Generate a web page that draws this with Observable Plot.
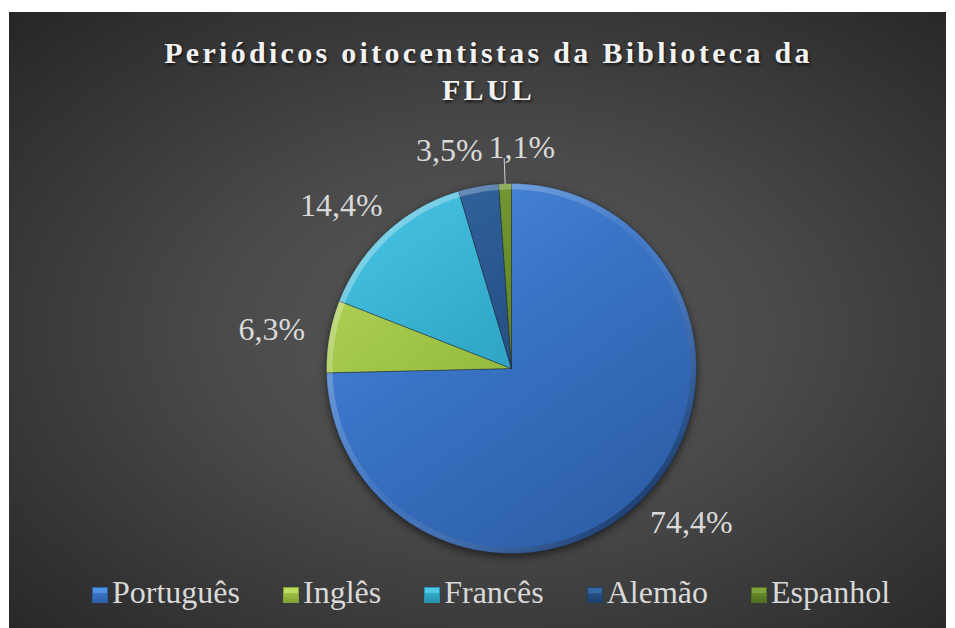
<!DOCTYPE html>
<html>
<head>
<meta charset="utf-8">
<script src="https://cdn.jsdelivr.net/npm/d3@7"></script>
<script src="https://cdn.jsdelivr.net/npm/@observablehq/plot@0.6"></script>
<style>
  html, body { margin: 0; padding: 0; background: #ffffff; font-family: 'Liberation Serif', 'Tinos', 'Times New Roman', serif; }
  #chart {
    position: absolute; left: 9px; top: 12px; width: 937px; height: 616px;
    background: radial-gradient(ellipse farthest-corner at 52% 52%, #5a5a5a 0%, #4a4a4a 40%, #262626 100%);
    overflow: hidden;
  }
  #title {
    box-sizing: border-box; height: 108px; padding-top: 22px; padding-left: 22px;
    font-weight: bold;
    font-size: 30px; line-height: 37px; letter-spacing: 3.3px; text-align: center;
    color: #f2f2f2; text-shadow: 1px 2px 3px rgba(0,0,0,0.65);
  }
  #plot svg { display: block; }
  #legend {
    box-sizing: border-box; height: 58px; padding-top: 2px; padding-left: 83px;
    display: flex; align-items: baseline; white-space: nowrap;
    font-size: 32px; line-height: 40px;
    color: #d9d9d9;
  }
  .item { display: inline-flex; align-items: baseline; margin-right: 43px; }
  .item:last-child { margin-right: 0; }
  .swatch { display: inline-block; width: 16px; height: 16px; margin-right: 4px; box-sizing: border-box; }
</style>
</head>
<body>
<div id="chart">
  <div id="title" style="font-family:'Liberation Serif'">Periódicos oitocentistas da Biblioteca da<br>FLUL</div>
  <div id="plot"></div>
  <div id="legend" style="font-family:'Liberation Serif'"></div>
</div>
<script>
// ---- data ----
const categories = ["Português", "Inglês", "Francês", "Alemão", "Espanhol"];
const percents = [74.4, 6.3, 14.4, 3.5, 1.1];

// ---- styles ----
const palette = {
  "Português": ["#4f91e3", "#3a74c6", "#2d5fa8"],
  "Inglês":    ["#bcdc62", "#9cc143", "#82a434"],
  "Francês":   ["#4cc8e8", "#33aacb", "#2891ae"],
  "Alemão":    ["#3569a6", "#28548a", "#1c3f6a"],
  "Espanhol":  ["#7da23a", "#658a29", "#4f6f1e"]
};
const SERIF = "'Liberation Serif', 'Tinos', 'Times New Roman', serif";

const W = 937, H = 450;
const CX = 502, CY = 248, R = 185, PAD = 25, LH = 22, RIM = 3;

const total = d3.sum(percents);
let acc = 0;
const slices = categories.map((name, i) => {
  const a0 = acc / total * 2 * Math.PI;
  acc += percents[i];
  const a1 = acc / total * 2 * Math.PI;
  return { name, i, value: percents[i], a0, a1, frac: percents[i] / total };
});

// slice outlines in unit coordinates (y up)
const pts = [], rim = [];
for (const s of slices) {
  pts.push({ name: s.name, i: s.i, x: 0, y: 0 });
  const n = Math.max(2, Math.ceil((s.a1 - s.a0) / (Math.PI / 180)));
  for (let k = 0; k <= n; k++) {
    const a = s.a0 + (s.a1 - s.a0) * k / n;
    pts.push({ name: s.name, i: s.i, x: Math.sin(a), y: Math.cos(a) });
    const rr = (R - RIM) / R;
    rim.push({ name: s.name, x: rr * Math.sin(a), y: rr * Math.cos(a) });
  }
  pts.push({ name: s.name, i: s.i, x: 0, y: 0 });
}

// label layout
const ctx = document.createElement("canvas").getContext("2d");
ctx.font = "32px 'Liberation Serif'";
const fmt = v => v.toFixed(1).replace(".", ",") + "%";
const labs = slices.map(s => {
  const mid = (s.a0 + s.a1) / 2;
  const dx = Math.sin(mid), dy = -Math.cos(mid);
  const text = fmt(s.value);
  const w = ctx.measureText(text).width;
  return { s, text, w, dx, dy,
    cx: dx * (R + PAD) + dx * w / 2,
    cy: dy * (R + PAD) + dy * LH / 2 };
});
for (let it = 0; it < 4; it++) {
  for (let a = 0; a < labs.length; a++) for (let b = a + 1; b < labs.length; b++) {
    const A = labs[a], B = labs[b];
    const need = (A.w + B.w) / 2 + 6;
    const gap = Math.abs(A.cx - B.cx);
    if (gap < need && Math.abs(A.cy - B.cy) < LH + 2) {
      const sh = (need - gap) / 2;
      const sgn = A.cx <= B.cx ? 1 : -1;
      A.cx -= sgn * sh; B.cx += sgn * sh;
    }
  }
}
const labelData = labs.map(l => ({ text: l.text, x: l.cx / R, y: -l.cy / R }));
const leaders = [];
labs.filter(l => l.s.frac < 0.02).forEach(l => {
  leaders.push({ id: l.text, x: l.dx, y: -l.dy });
  leaders.push({ id: l.text, x: l.dx * (R + PAD) / R, y: -l.dy * (R + PAD) / R });
});

const svg = Plot.plot({
  width: W, height: H,
  margin: 0,
  style: { background: "transparent", overflow: "visible", fontFamily: SERIF },
  x: { domain: [-CX / R, (W - CX) / R], range: [0, W], axis: null },
  y: { domain: [-(H - CY) / R, CY / R], range: [H, 0], axis: null },
  marks: [
    Plot.line(pts, { x: "x", y: "y", z: "name", fill: d => `url(#g${d.i})`,
      stroke: "#1a2433", strokeOpacity: 0.55, strokeWidth: 0.8, curve: "linear" }),
    Plot.line(rim, { x: "x", y: "y", z: "name", stroke: "url(#rim)", strokeWidth: 2 * RIM,
      strokeLinecap: "butt" }),
    Plot.line(leaders, { x: "x", y: "y", z: "id", stroke: "#d0d0d0", strokeWidth: 1 }),
    Plot.text(labelData, { x: "x", y: "y", text: "text", fill: "#d9d9d9",
      fontSize: 32, fontFamily: SERIF,
      textAnchor: "middle", lineAnchor: "middle" })
  ]
});

const defs = d3.select(svg).insert("defs", ":first-child");
categories.forEach((c, i) => {
  const [l, m, d] = palette[c];
  const g = defs.append("linearGradient").attr("id", `g${i}`)
    .attr("gradientUnits", "userSpaceOnUse")
    .attr("x1", CX - R).attr("y1", CY - R).attr("x2", CX + R * 0.4).attr("y2", CY + R);
  g.append("stop").attr("offset", "0%").attr("stop-color", l);
  g.append("stop").attr("offset", "45%").attr("stop-color", m);
  g.append("stop").attr("offset", "100%").attr("stop-color", d);
});
const rg = defs.append("linearGradient").attr("id", "rim")
  .attr("gradientUnits", "userSpaceOnUse")
  .attr("x1", CX - R * 0.7).attr("y1", CY - R * 0.7).attr("x2", CX + R * 0.7).attr("y2", CY + R * 0.7);
rg.append("stop").attr("offset", "0%").attr("stop-color", "#ffffff").attr("stop-opacity", 0.3);
rg.append("stop").attr("offset", "50%").attr("stop-color", "#ffffff").attr("stop-opacity", 0.05);
rg.append("stop").attr("offset", "100%").attr("stop-color", "#000000").attr("stop-opacity", 0.3);

const pieG = svg.querySelector('g[aria-label="line"]');
if (pieG) pieG.style.filter = "drop-shadow(0px 3px 4px rgba(0,0,0,0.55))";
d3.select(svg).selectAll("text").style("font-family", SERIF);

document.getElementById("plot").appendChild(svg);

// legend
const legend = d3.select("#legend");
categories.forEach(c => {
  const [l, m, d] = palette[c];
  const item = legend.append("span").attr("class", "item");
  item.append("span").attr("class", "swatch")
    .style("background", `linear-gradient(to bottom, ${l} 0%, ${l} 35%, ${m} 36%, ${d} 100%)`)
    .style("border", `1px solid ${d}`);
  item.append("span").text(c);
});
</script>
</body>
</html>
